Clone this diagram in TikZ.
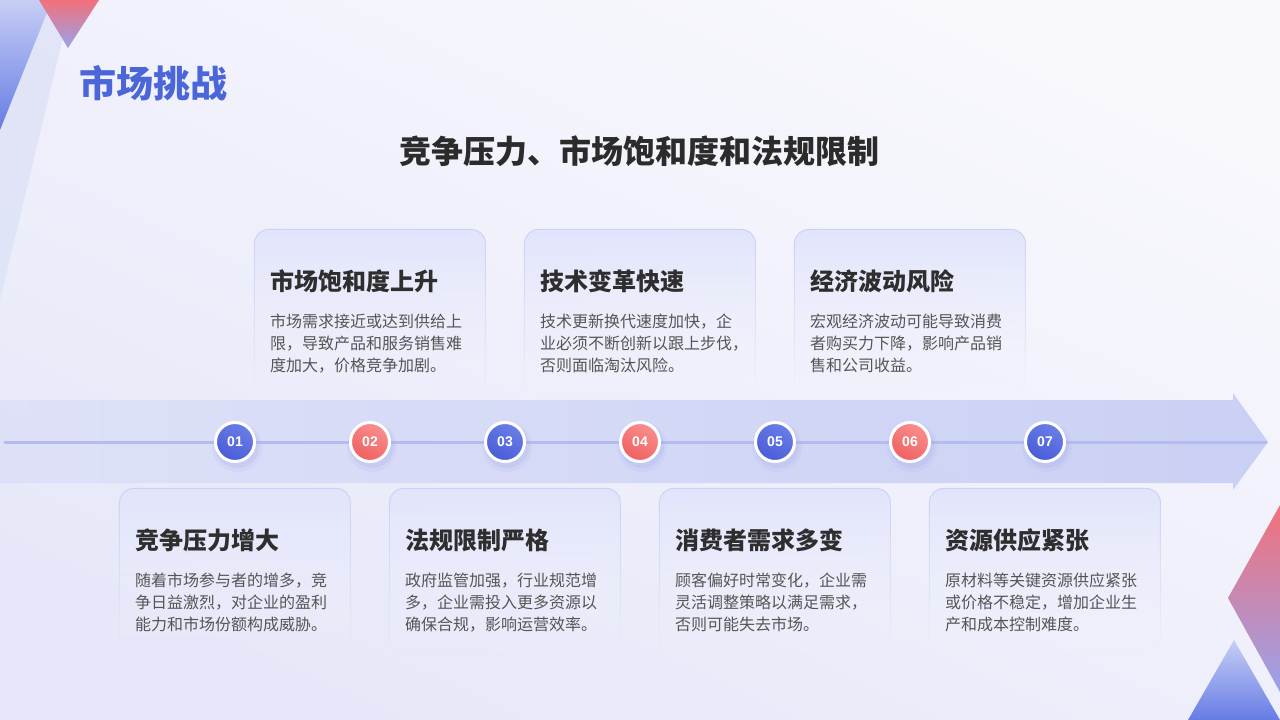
\documentclass[tikz,border=0pt]{standalone}
\usepackage{fontspec}
\setmainfont{Noto Sans CJK SC}
\newfontfamily\numfont{Liberation Sans}
\usetikzlibrary{fadings,shadings}
\definecolor{bgA}{HTML}{F8F8FD}
\definecolor{bgB}{HTML}{E6E8F9}
\definecolor{titleblue}{HTML}{4A66D8}
\definecolor{headcol}{HTML}{2B2B2B}
\definecolor{cardtitle}{HTML}{2E2E2E}
\definecolor{cardtext}{HTML}{555555}
\definecolor{cardtop}{HTML}{E1E4FB}
\definecolor{cardbot}{HTML}{F1F2FD}
\definecolor{cardline}{HTML}{CDD2F5}
\definecolor{bandL}{HTML}{DDE0F8}
\definecolor{bandR}{HTML}{C6CDF4}
\definecolor{linecol}{HTML}{B3BCEF}
\definecolor{blueA}{HTML}{6A7EE8}
\definecolor{blueB}{HTML}{4A5CD6}
\definecolor{redA}{HTML}{FA8E8E}
\definecolor{redB}{HTML}{EF6060}
\definecolor{shadowcol}{HTML}{9FA8E6}
\definecolor{decoRed}{HTML}{F2707C}
\definecolor{decoPurple}{HTML}{9AA2EA}
\definecolor{decoBlueL}{HTML}{C7CEF5}
\definecolor{decoBlue}{HTML}{667CE4}
\definecolor{decoFaint}{HTML}{DEE2F7}
\tikzfading[name=cardfade, top color=transparent!0, bottom color=transparent!100]
\tikzset{
  card/.style={rectangle, rounded corners=14pt, minimum width=231pt, minimum height=165pt,
    anchor=north west, inner sep=0pt, draw=cardline, line width=1pt,
    top color=cardtop, bottom color=cardbot, path fading=cardfade},
  ctitle/.style={anchor=west, inner sep=0pt, text=cardtitle,
    font=\fontsize{24}{28}\selectfont\bfseries},
  cbody/.style={anchor=north west, inner sep=0pt, align=left, text=cardtext,
    font=\fontsize{16}{22}\selectfont},
  numdot/.style={circle, minimum size=39pt, inner sep=0pt, draw=white, line width=3pt,
    text=white, font=\numfont\fontsize{14}{14}\selectfont\bfseries},
  bluedot/.style={numdot, top color=blueA, bottom color=blueB, shading angle=-30},
  reddot/.style={numdot, top color=redA, bottom color=redB, shading angle=-30},
}
\begin{document}
\begin{tikzpicture}[x=1pt,y=-1pt]
\useasboundingbox (0,0) rectangle (1280,720);
% background
\shade[top color=bgA, bottom color=bgB, shading angle=-25] (0,0) rectangle (1280,720);
% top-left decorations
\fill[decoFaint, opacity=0.8] (0,0) -- (72,0) -- (0,300) -- cycle;
\shade[top color=decoBlueL, bottom color=decoBlue] (0,0) -- (52,0) -- (0,130) -- cycle;
\shade[top color=decoRed, bottom color=decoPurple] (39,0) -- (99,0) -- (68,48) -- cycle;
% bottom-right decorations
\shade[top color=decoRed, bottom color=decoPurple] (1280,505) -- (1228,598) -- (1280,692) -- cycle;
\shade[top color=decoBlueL, bottom color=decoBlue] (1234,640) -- (1188,720) -- (1280,720) -- cycle;
% titles
\node[anchor=west, inner sep=0pt, text=titleblue, font=\fontsize{37}{42}\selectfont\bfseries] (title) at (79,83) {市场挑战};
\node[inner sep=0pt, text=headcol, font=\fontsize{32}{36}\selectfont\bfseries] (heading) at (639,151) {竞争压力、市场饱和度和法规限制};
% arrow band
\shade[left color=bandL, right color=bandR, opacity=0.9] (0,400) -- (1233,400) -- (1233,393) -- (1268,442) -- (1233,490) -- (1233,483) -- (0,483) -- cycle;
\coordinate (lstart) at (5,442);
\coordinate (ltip) at (1266,442);
\draw[linecol, line width=3pt, line cap=round] (lstart) -- (ltip);
% shadows of dots
\foreach \i in {0,...,6} {
  \fill[shadowcol, opacity=0.12] (235+135*\i+2,447) circle (25);
  \fill[shadowcol, opacity=0.2] (235+135*\i+2,446) circle (22);
}
% dots
\node[bluedot] (d1) at (235,442) {01};
\node[reddot]  (d2) at (370,442) {02};
\node[bluedot] (d3) at (505,442) {03};
\node[reddot]  (d4) at (640,442) {04};
\node[bluedot] (d5) at (775,442) {05};
\node[reddot]  (d6) at (910,442) {06};
\node[bluedot] (d7) at (1045,442) {07};
% top cards
\node[card] (t1) at (254,229) {};
\node[ctitle] (t1h) at (270,281) {市场饱和度上升};
\node[cbody] (t1b) at (270,314) {市场需求接近或达到供给上\\限，导致产品和服务销售难\\度加大，价格竞争加剧。};
\node[card] (t2) at (524,229) {};
\node[ctitle] (t2h) at (540,281) {技术变革快速};
\node[cbody] (t2b) at (540,314) {技术更新换代速度加快，企\\业必须不断创新以跟上步伐，\\否则面临淘汰风险。};
\node[card] (t3) at (794,229) {};
\node[ctitle] (t3h) at (810,281) {经济波动风险};
\node[cbody] (t3b) at (810,314) {宏观经济波动可能导致消费\\者购买力下降，影响产品销\\售和公司收益。};
% bottom cards
\node[card] (b1) at (119,488) {};
\node[ctitle] (b1h) at (135,540) {竞争压力增大};
\node[cbody] (b1b) at (135,573) {随着市场参与者的增多，竞\\争日益激烈，对企业的盈利\\能力和市场份额构成威胁。};
\node[card] (b2) at (389,488) {};
\node[ctitle] (b2h) at (405,540) {法规限制严格};
\node[cbody] (b2b) at (405,573) {政府监管加强，行业规范增\\多，企业需投入更多资源以\\确保合规，影响运营效率。};
\node[card] (b3) at (659,488) {};
\node[ctitle] (b3h) at (675,540) {消费者需求多变};
\node[cbody] (b3b) at (675,573) {顾客偏好时常变化，企业需\\灵活调整策略以满足需求，\\否则可能失去市场。};
\node[card] (b4) at (929,488) {};
\node[ctitle] (b4h) at (945,540) {资源供应紧张};
\node[cbody] (b4b) at (945,573) {原材料等关键资源供应紧张\\或价格不稳定，增加企业生\\产和成本控制难度。};
\end{tikzpicture}
\end{document}
